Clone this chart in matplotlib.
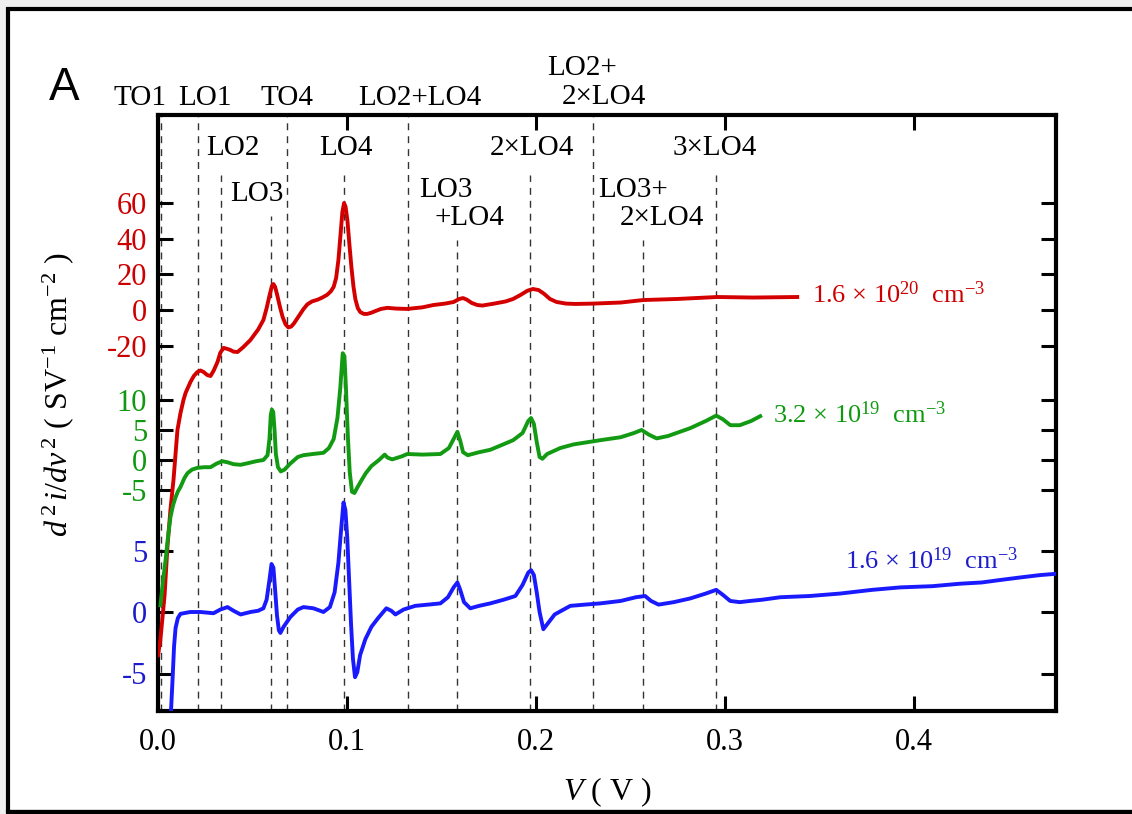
import matplotlib
import matplotlib.pyplot as plt
from matplotlib.patches import Rectangle
from matplotlib.lines import Line2D

matplotlib.use('agg')

plt.rcParams['font.family'] = ['Liberation Serif', 'DejaVu Serif']
plt.rcParams['mathtext.fontset'] = 'custom'
plt.rcParams['mathtext.rm'] = 'Liberation Serif'
plt.rcParams['mathtext.it'] = 'Liberation Serif:italic'

# ---- data: V (volts) and d2i/dv2 values for each doping level ----
red_v = [0.0, 0.0013, 0.0035, 0.0050, 0.0066, 0.0082, 0.0095, 0.0103, 0.0119, 0.0135,
         0.0146, 0.0172, 0.0190, 0.0209, 0.0225, 0.0241, 0.0260, 0.0278, 0.0295, 0.0315,
         0.0330, 0.0347, 0.0365, 0.0384, 0.0400, 0.0421, 0.0450, 0.0489, 0.0530, 0.0558,
         0.0575, 0.0590, 0.0603, 0.0611, 0.0620, 0.0632, 0.0645, 0.0660, 0.0675, 0.0690,
         0.0705, 0.0720, 0.0745, 0.0770, 0.0791, 0.0815, 0.0845, 0.0870, 0.0895, 0.0915,
         0.0930, 0.0943, 0.0955, 0.0966, 0.0976, 0.0985, 0.0993, 0.1003, 0.1014, 0.1024,
         0.1035, 0.1045, 0.1058, 0.1071, 0.1090, 0.1108, 0.1130, 0.1151, 0.1180, 0.1214,
         0.1260, 0.1320, 0.1400, 0.1458, 0.1520, 0.1565, 0.1595, 0.1615, 0.1635, 0.1660,
         0.1690, 0.1717, 0.1780, 0.1840, 0.1880, 0.1920, 0.1955, 0.1985, 0.2015, 0.2045,
         0.2075, 0.2110, 0.2160, 0.2209, 0.2304, 0.2450, 0.2569, 0.2750, 0.2960, 0.3150,
         0.3384]
red_y = [-194, -185, -160, -133, -112, -95.5, -78, -67.4, -57.9, -50.5,
         -46.6, -40.4, -37, -34.8, -34, -34.8, -36.5, -37.1, -34, -29.2,
         -24, -21.3, -21.8, -22.5, -23.4, -23.6, -21, -16.9, -11, -5.6,
         1, 8, 13.5, 14.6, 13, 8, 2, -4, -8, -9.8,
         -9.3, -7.5, -3.5, 0.5, 3.2, 4.8, 5.8, 7, 8.5, 10.5,
         13, 18, 28, 42, 55, 60.1, 58, 50, 36, 24,
         13, 6, 1, -1.2, -2.2, -2.2, -1.5, -0.6, 0.6, 1.2,
         0.8, 0.6, 1.5, 2.8, 3.6, 4.5, 6.2, 6.7, 5.8, 4.0,
         2.8, 2.5, 3.6, 4.8, 6.2, 8.5, 10.8, 11.8, 11.2, 9.0,
         6.2, 4.5, 3.6, 3.4, 3.6, 4.2, 5.6, 6.2, 7.3, 7.0,
         7.3]

green_v = [0.0013, 0.0027, 0.0040, 0.0053, 0.0066, 0.0080, 0.0093, 0.0106, 0.0119, 0.0140,
           0.0156, 0.0180, 0.0209, 0.0245, 0.0278, 0.0310, 0.0341, 0.0370, 0.0400, 0.0437,
           0.0480, 0.0520, 0.0558, 0.0580, 0.0590, 0.0597, 0.0603, 0.0610, 0.0617, 0.0624,
           0.0635, 0.0650, 0.0670, 0.0700, 0.0740, 0.0770, 0.0820, 0.0876, 0.0905, 0.0930,
           0.0950, 0.0965, 0.0978, 0.0987, 0.0995, 0.1005, 0.1015, 0.1027, 0.1040, 0.1055,
           0.1075, 0.1100, 0.1130, 0.1170, 0.1200, 0.1215, 0.1240, 0.1290, 0.1320, 0.1400,
           0.1495, 0.1540, 0.1570, 0.1585, 0.1600, 0.1615, 0.1640, 0.1700, 0.1759, 0.1820,
           0.1880, 0.1930, 0.1960, 0.1975, 0.1990, 0.2005, 0.2020, 0.2035, 0.2060, 0.2130,
           0.2200, 0.2341, 0.2450, 0.2520, 0.2560, 0.2600, 0.2640, 0.2700, 0.2817, 0.2900,
           0.2955, 0.2990, 0.3030, 0.3080, 0.3140, 0.3188]
green_y = [-24.2, -20, -16.7, -12.8, -9.5, -7.5, -6.2, -5.2, -4.5, -3.0,
           -2.2, -1.6, -1.3, -1.2, -1.2, -0.6, -0.2, -0.4, -0.7, -0.8,
           -0.5, -0.2, 0.0, 0.8, 3.5, 7.5, 8.4, 8.0, 5, 1,
           -1.2, -1.9, -1.6, -0.6, 0.5, 0.8, 1.0, 1.2, 2.0, 3.5,
           7.0, 12, 17.8, 17.3, 12, 4, -2, -5.3, -5.5, -4.6,
           -3.5, -2.2, -1.0, 0.0, 0.9, 0.4, 0.1, 0.6, 1.0, 0.9,
           1.0, 2.0, 3.8, 4.7, 3.2, 1.3, 0.8, 1.3, 1.7, 2.5,
           3.3, 4.5, 6.5, 7.0, 6.0, 3.0, 0.5, 0.2, 1.0, 2.0,
           2.6, 3.3, 3.8, 4.5, 5.0, 4.2, 3.6, 4.0, 5.3, 6.5,
           7.4, 6.8, 5.8, 5.8, 6.5, 7.3]

blue_v = [0.0061, 0.0069, 0.0077, 0.0085, 0.0093, 0.0105, 0.0119, 0.0170, 0.0225, 0.0294,
          0.0330, 0.0368, 0.0400, 0.0437, 0.0490, 0.0530, 0.0558, 0.0575, 0.0590, 0.0601,
          0.0611, 0.0620, 0.0630, 0.0640, 0.0648, 0.0665, 0.0701, 0.0740, 0.0770, 0.0823,
          0.0876, 0.0910, 0.0935, 0.0955, 0.0970, 0.0982, 0.0992, 0.1002, 0.1012, 0.1022,
          0.1032, 0.1043, 0.1055, 0.1070, 0.1098, 0.1130, 0.1165, 0.1209, 0.1235, 0.1257,
          0.1300, 0.1362, 0.1430, 0.1495, 0.1535, 0.1565, 0.1585, 0.1600, 0.1620, 0.1653,
          0.1700, 0.1759, 0.1830, 0.1892, 0.1930, 0.1960, 0.1975, 0.1990, 0.2005, 0.2020,
          0.2040, 0.2060, 0.2100, 0.2183, 0.2260, 0.2341, 0.2450, 0.2530, 0.2579, 0.2610,
          0.2650, 0.2730, 0.2817, 0.2900, 0.2955, 0.2990, 0.3029, 0.3080, 0.3135, 0.3200,
          0.3294, 0.3450, 0.3611, 0.3780, 0.3929, 0.4100, 0.4246, 0.4360, 0.4458, 0.4560,
          0.4669, 0.4749]
blue_y = [-10.4, -8, -5.5, -2.8, -1.3, -0.5, -0.15, 0.0, 0.0, -0.1,
          0.2, 0.4, 0.1, -0.2, 0.0, 0.1, 0.3, 1.0, 2.6, 3.9,
          3.6, 1.8, -0.3, -1.5, -1.7, -1.2, -0.4, 0.2, 0.4, 0.3,
          0.0, 0.4, 1.6, 4.0, 6.8, 8.9, 8.3, 6.0, 2.5, -1.0,
          -3.8, -5.3, -4.9, -3.5, -2.2, -1.2, -0.5, 0.3, 0.1, -0.2,
          0.2, 0.5, 0.6, 0.7, 1.2, 2.0, 2.4, 1.8, 0.8, 0.3,
          0.5, 0.7, 1.0, 1.3, 2.2, 3.2, 3.4, 3.0, 1.6, 0.0,
          -1.4, -1.0, -0.2, 0.5, 0.6, 0.7, 0.9, 1.2, 1.3, 0.9,
          0.6, 0.8, 1.1, 1.5, 1.8, 1.4, 0.9, 0.8, 0.9, 1.0,
          1.2, 1.3, 1.5, 1.8, 2.0, 2.1, 2.3, 2.4, 2.6, 2.8,
          3.0, 3.1]

red_ticks = [60, 40, 20, 0, -20]
green_ticks = [10, 5, 0, -5]
blue_ticks = [5, 0, -5]

# phonon mode positions (V) and the top of each dashed line (axes fraction)
mode_v = [0.0015, 0.0213, 0.0334, 0.0599, 0.0683, 0.0987, 0.1321, 0.1585,
          0.1971, 0.2304, 0.2569, 0.2955]
mode_top = [1.0, 1.0, 0.90, 0.83, 1.0, 0.90, 1.0, 0.79, 0.90, 1.0, 0.79, 0.90]

RED, GREEN, BLUE = '#d40000', '#139a13', '#1a1aff'
RED_T, GREEN_T, BLUE_T = '#cc0000', '#109910', '#1c1ccc'

# stacking: offset and scale of each curve on the shared axis
stack = {'red': (401, 1.78), 'green': (251, 6.0), 'blue': (99, 12.3)}


def place(vals, key):
    off, s = stack[key]
    return [off + s * v for v in vals]


fig = plt.figure(figsize=(11.32, 8.14), dpi=100, facecolor='#efefef')

# outer white panel with black frame
fig.add_artist(Rectangle((8 / 1132, 1 - 812 / 814), 1.2, (812 - 9) / 814,
                         transform=fig.transFigure, facecolor='white',
                         edgecolor='black', lw=3, zorder=0))

ax = fig.add_axes([158 / 1132, 1 - 711 / 814, (1056 - 158) / 1132, (711 - 115) / 814])
ax.set_xlim(0.0, 0.4754)
ax.set_ylim(0, 596)

for v, top in zip(mode_v, mode_top):
    ax.plot([v, v], [0, top], transform=ax.get_xaxis_transform(), color='#333333',
            lw=1.0, ls=(0, (5, 4.3)), zorder=1, clip_on=False)

ax.plot(red_v, place(red_y, 'red'), color=RED, lw=2.8, zorder=3)
ax.plot(green_v, place(green_y, 'green'), color=GREEN, lw=2.8, zorder=3)
ax.plot(blue_v, place(blue_y, 'blue'), color=BLUE, lw=2.8, zorder=3)

ytick_pos = place(red_ticks, 'red') + place(green_ticks, 'green') + place(blue_ticks, 'blue')
ytick_lab = [str(t) for t in red_ticks + green_ticks + blue_ticks]
ytick_col = [RED_T] * len(red_ticks) + [GREEN_T] * len(green_ticks) + [BLUE_T] * len(blue_ticks)
ax.set_yticks(ytick_pos)
ax.set_yticklabels(ytick_lab)
for lab, c in zip(ax.get_yticklabels(), ytick_col):
    lab.set_color(c)

ax.set_xticks([0.0, 0.1, 0.2, 0.3, 0.4])
ax.set_xticklabels(['0.0', '0.1', '0.2', '0.3', '0.4'])
ax.tick_params(direction='in', length=11, width=2.2, labelsize=22,
               top=True, right=True)
ax.tick_params(axis='y', pad=8)
ax.tick_params(axis='x', pad=12)
for sp in ax.spines.values():
    sp.set_linewidth(3)

# peak labels
tr = ax.get_xaxis_transform()
labels = [
    ('TO1', -0.0093, 1.0285), ('LO1', 0.0246, 1.0285), ('TO4', 0.0685, 1.0285),
    ('LO2+LO4', 0.1384, 1.0285), ('LO2+', 0.2246, 1.0789), ('2×LO4', 0.2362, 1.0302),
    ('LO2', 0.0394, 0.9446), ('LO4', 0.0997, 0.9446), ('2×LO4', 0.1981, 0.9446),
    ('3×LO4', 0.2950, 0.9446), ('LO3', 0.0526, 0.8674),
    ('LO3', 0.1526, 0.8742), ('+LO4', 0.1648, 0.8272),
    ('LO3+', 0.2516, 0.8742), ('2×LO4', 0.2669, 0.8272),
]
for txt, x, y in labels:
    ax.text(x, y, txt, transform=tr, ha='center', va='center', fontsize=21,
            clip_on=False, zorder=5)

# doping labels
ax.text(0.3463, 0.6846, r'1.6 × 10$^{20}$  cm$^{-3}$', transform=tr, color=RED_T,
        fontsize=19, ha='left', va='baseline')
ax.text(0.3257, 0.4832, r'3.2 × 10$^{19}$  cm$^{-3}$', transform=tr, color=GREEN_T,
        fontsize=19, ha='left', va='baseline')
ax.text(0.3638, 0.2383, r'1.6 × 10$^{19}$  cm$^{-3}$', transform=tr, color=BLUE_T,
        fontsize=19, ha='left', va='baseline')

fig.text(0.0512, 0.5147, r'$d^{\,2}\,i/dv^{\,2}$ ( SV$^{-1}$ cm$^{-2}$ )', rotation=90,
         ha='center', va='center', fontsize=23)
fig.text(0.5362, 0.0265, r'$V$ ( V )', ha='center', va='center', fontsize=23)
fig.text(0.0565, 0.8919, 'A', ha='center', va='center', fontsize=33,
         family=['Liberation Sans', 'DejaVu Sans'])

# strip below the frame
fig.add_artist(Rectangle((0, 0), 1, 1 - 812 / 814, transform=fig.transFigure,
                         facecolor='#efefef', edgecolor='none', zorder=30))
fig.add_artist(Line2D([8 / 1132, 1], [1 - 812 / 814] * 2, transform=fig.transFigure,
                      color='black', lw=3, zorder=31))

fig.savefig('out.png', dpi=100, facecolor=fig.get_facecolor())
